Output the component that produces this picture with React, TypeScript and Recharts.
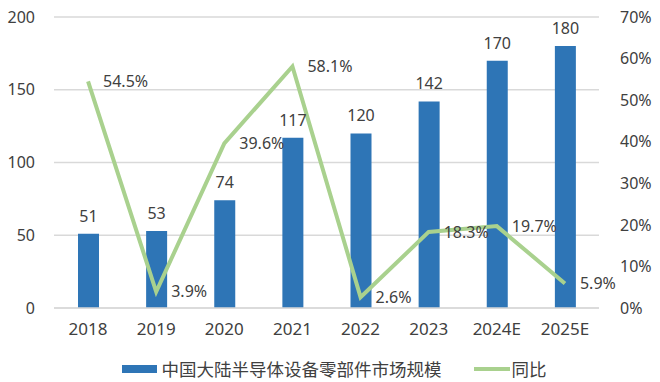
import * as React from 'react';
import { ComposedChart, Bar, Line, XAxis, YAxis, CartesianGrid, LabelList, Legend } from 'recharts';

const years = ['2018', '2019', '2020', '2021', '2022', '2023', '2024E', '2025E'];
const marketSize = [51, 53, 74, 117, 120, 142, 170, 180];
const yoy = [54.5, 3.9, 39.6, 58.1, 2.6, 18.3, 19.7, 5.9];

const leftTicks = [0, 50, 100, 150, 200];
const rightTicks = [0, 10, 20, 30, 40, 50, 60, 70];

const BLUE = '#2E75B6';
const GREEN = '#A9D18E';
const TEXT = '#404040';
const FONT = '"Noto Sans", "Noto Sans CJK SC", sans-serif';
const CJK = '"Noto Sans CJK SC", sans-serif';

const data = years.map((year, i) => ({
    year,
    size: marketSize[i],
    yoy: yoy[i],
}));

function LegendContent() {
    return (
        <div
            style={{
                height: 30,
                paddingTop: 4,
                boxSizing: 'border-box',
                display: 'flex',
                alignItems: 'center',
                justifyContent: 'center',
                fontFamily: CJK,
                fontSize: 17.5,
                color: TEXT,
                lineHeight: 1,
                paddingLeft: 8,
            }}
        >
            <span style={{ display: 'inline-block', width: 35, height: 8, background: BLUE, marginRight: 5 }} />
            <span>中国大陆半导体设备零部件市场规模</span>
            <span style={{ display: 'inline-block', width: 36, height: 4, background: GREEN, marginLeft: 32, marginRight: 2 }} />
            <span>同比</span>
        </div>
    );
}

export default function App() {
    return (
        <div style={{ position: 'absolute', left: 0, top: 0 }}>
            <ComposedChart
                width={660}
                height={382}
                data={data}
                margin={{ top: 17, right: 0, bottom: 0, left: 0 }}
                style={{ fontFamily: FONT }}
            >
                <CartesianGrid yAxisId="left" vertical={false} stroke="#D9D9D9" strokeWidth={1.3} />
                <XAxis
                    dataKey="year"
                    axisLine={{ stroke: '#D9D9D9', strokeWidth: 1.3 }}
                    tickLine={false}
                    tickSize={0}
                    tickMargin={15}
                    height={44}
                    tick={{ fill: TEXT, fontSize: 17 }}
                />
                <YAxis
                    yAxisId="left"
                    domain={[0, 200]}
                    ticks={leftTicks}
                    width={54}
                    axisLine={false}
                    tickLine={false}
                    tickSize={0}
                    tickMargin={19}
                    tick={{ fill: TEXT, fontSize: 16 }}
                />
                <YAxis
                    yAxisId="right"
                    orientation="right"
                    domain={[0, 70]}
                    ticks={rightTicks}
                    width={61}
                    axisLine={false}
                    tickLine={false}
                    tickSize={0}
                    tickMargin={21}
                    tickFormatter={(v: number) => `${v}%`}
                    tick={{ fill: TEXT, fontSize: 16 }}
                />
                <Legend verticalAlign="bottom" content={() => <LegendContent />} />
                <Bar yAxisId="left" dataKey="size" fill={BLUE} barSize={21} isAnimationActive={false}>
                    <LabelList dataKey="size" position="top" offset={12} fill={TEXT} fontSize={16} />
                </Bar>
                <Line
                    yAxisId="right"
                    dataKey="yoy"
                    type="linear"
                    stroke={GREEN}
                    strokeWidth={4}
                    dot={false}
                    activeDot={false}
                    isAnimationActive={false}
                >
                    <LabelList
                        dataKey="yoy"
                        position="right"
                        offset={15}
                        fill={TEXT}
                        fontSize={16}
                        formatter={(v: number) => `${v}%`}
                    />
                </Line>
            </ComposedChart>
        </div>
    );
}
